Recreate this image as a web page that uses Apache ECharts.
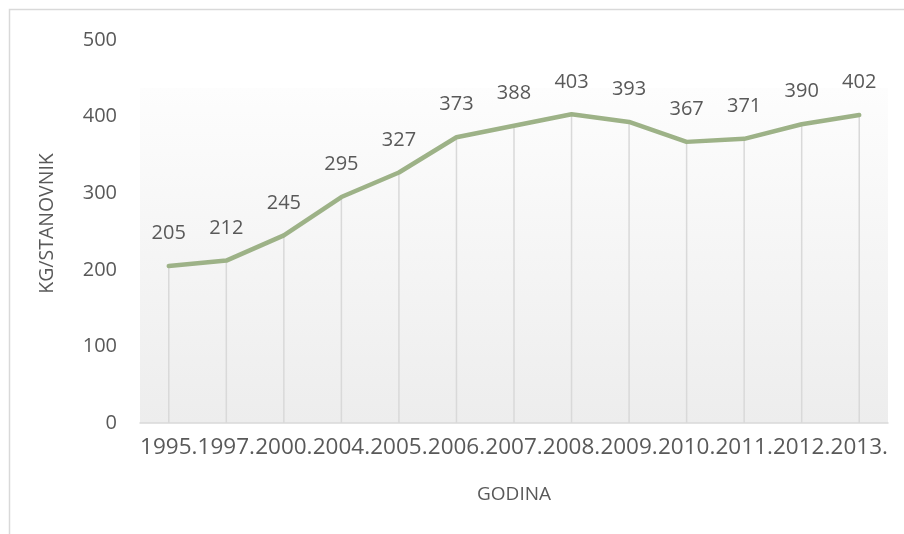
<!DOCTYPE html>
<html>
<head>
<meta charset="utf-8">
<script src="https://cdn.jsdelivr.net/npm/echarts@6/dist/echarts.min.js"></script>
<style>html,body{margin:0;padding:0;background:#fff}#c{width:904px;height:534px}</style>
</head>
<body>
<div id="c"></div>
<script>
var categories = ['1995.', '1997.', '2000.', '2004.', '2005.', '2006.', '2007.', '2008.', '2009.', '2010.', '2011.', '2012.', '2013.'];
var values = [205, 212, 245, 295, 327, 373, 388, 403, 393, 367, 371, 390, 402];
var yTicks = [0, 100, 200, 300, 400, 500];
var xTitle = 'GODINA';
var yTitle = 'KG/STANOVNIK';

var FONT = '"Open Sans", sans-serif';
var TXT = '#595959';
var chart = echarts.init(document.getElementById('c'), null, {renderer: 'canvas'});
chart.setOption({
  backgroundColor: '#ffffff',
  animation: false,
  graphic: [
    {type: 'rect', silent: true, z: -10,
     shape: {x: 9.5, y: 9.5, width: 1000, height: 1000},
     style: {fill: '#ffffff', stroke: '#d9d9d9', lineWidth: 1.5}},
    {type: 'rect', silent: true, z: -5,
     shape: {x: 140, y: 88, width: 748, height: 335},
     style: {fill: new echarts.graphic.LinearGradient(0, 0, 0, 1, [
       {offset: 0, color: '#fdfdfd'}, {offset: 1, color: '#ededed'}])}}
  ],
  grid: {left: 140, right: 16, top: 40, bottom: 111, containLabel: false},
  xAxis: {
    type: 'category', data: categories, boundaryGap: true,
    axisLine: {show: true, lineStyle: {color: '#d9d9d9', width: 1.5}},
    axisTick: {show: false},
    axisLabel: {color: TXT, fontFamily: FONT, fontSize: 22.5, margin: 13, interval: 0},
    name: xTitle, nameLocation: 'middle', nameGap: 62,
    nameTextStyle: {color: TXT, fontFamily: FONT, fontSize: 19}
  },
  yAxis: {
    type: 'value', min: yTicks[0], max: yTicks[yTicks.length - 1], interval: 100,
    axisLine: {show: false}, axisTick: {show: false}, splitLine: {show: false},
    axisLabel: {color: TXT, fontFamily: FONT, fontSize: 20, margin: 23},
    name: yTitle, nameLocation: 'middle', nameGap: 83, nameRotate: 90,
    nameTextStyle: {color: TXT, fontFamily: FONT, fontSize: 19.5, padding: [0, 0, 0, 16]}
  },
  series: [
    {type: 'bar', data: values, barWidth: 1.5, silent: true, z: 1,
     itemStyle: {color: '#d9d9d9'}},
    {type: 'line', data: values, z: 3, symbol: 'circle', symbolSize: 1, showSymbol: true, smooth: false,
     itemStyle: {color: '#9db287'},
     lineStyle: {color: '#9db287', width: 4.5, cap: 'round', join: 'round'},
     labelLayout: {hideOverlap: false},
     label: {show: true, position: 'top', distance: 22, color: TXT, fontFamily: FONT, fontSize: 20}}
  ]
});
</script>
</body>
</html>
